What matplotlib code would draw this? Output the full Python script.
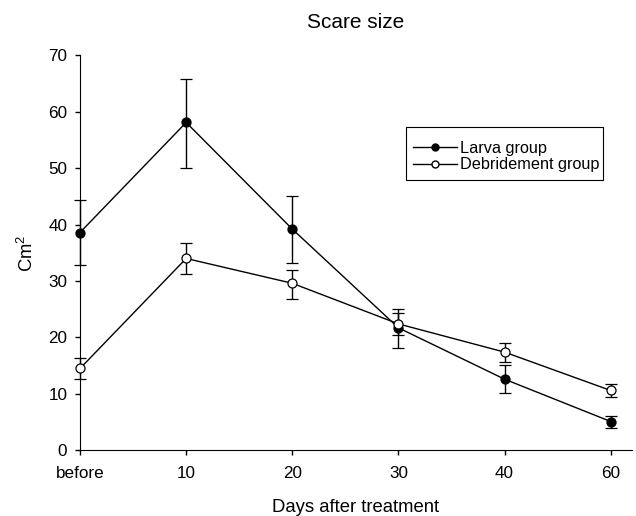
import numpy as np
import matplotlib
matplotlib.use('Agg')
import matplotlib.pyplot as plt
from matplotlib.lines import Line2D
from matplotlib.patches import Rectangle

plt.rcParams['font.family'] = ['Liberation Sans', 'DejaVu Sans']
plt.rcParams['mathtext.fontset'] = 'custom'
plt.rcParams['mathtext.rm'] = 'Liberation Sans'
plt.rcParams['mathtext.it'] = 'Liberation Sans'

days = ['before', '10', '20', '30', '40', '60']

# Larva group: mean with upper / lower error ends
larva_mean = [38.6, 58.1, 39.2, 21.7, 12.6, 5.1]
larva_hi = [44.4, 65.8, 45.1, 25.0, 15.2, 6.1]
larva_lo = [32.8, 50.1, 33.2, 18.2, 10.1, 4.0]

# Debridement group
debr_mean = [14.5, 34.0, 29.6, 22.4, 17.4, 10.6]
debr_hi = [16.3, 36.7, 32.0, 24.3, 19.1, 11.8]
debr_lo = [12.7, 31.2, 26.8, 20.4, 15.6, 9.4]

x = np.arange(len(days))

fig = plt.figure(figsize=(6.36, 5.16), dpi=100)
ax = fig.add_axes([0.1258, 0.1273, 0.8679, 0.7655])

def draw(mean, hi, lo, face):
    mean = np.array(mean)
    yerr = [mean - np.array(lo), np.array(hi) - mean]
    ax.errorbar(x, mean, yerr=yerr, color='black', lw=1.0, elinewidth=1.0,
                capsize=4.3, capthick=1.0, marker='o', markersize=6.5,
                markerfacecolor=face, markeredgecolor='black',
                markeredgewidth=0.9, clip_on=False, zorder=3)

draw(larva_mean, larva_hi, larva_lo, 'black')
draw(debr_mean, debr_hi, debr_lo, 'white')

ax.set_xlim(0, 5.2)
ax.set_ylim(0, 70)
ax.set_xticks(x)
ax.set_xticklabels(days)
ax.set_yticks(range(0, 71, 10))
ax.tick_params(direction='out', length=3.6, width=1, labelsize=12.3, color='black')
ax.tick_params(axis='x', pad=8)
ax.tick_params(axis='y', pad=5.5)
ax.spines['top'].set_visible(False)
ax.spines['right'].set_visible(False)

ax.set_title('Scare size', fontsize=15, pad=20)
ax.set_xlabel('Days after treatment', fontsize=13.3, labelpad=13)
ax.set_ylabel('Cm$^2$', fontsize=13.3, labelpad=8)

# legend box drawn separately, as in the original figure
ax.add_patch(Rectangle((0.5906, 0.6843), 0.3569, 0.1342, transform=ax.transAxes,
                       fill=False, edgecolor='black', lw=0.8, clip_on=False))
handles = [
    Line2D([], [], color='black', lw=1.0, marker='o', markersize=5,
           markerfacecolor='black', markeredgecolor='black'),
    Line2D([], [], color='black', lw=1.0, marker='o', markersize=5,
           markerfacecolor='white', markeredgecolor='black'),
]
leg = ax.legend(handles, ['Larva group', 'Debridement group'],
                loc='upper left', bbox_to_anchor=(0.6033, 0.783),
                borderaxespad=0, borderpad=0, fontsize=11.7, frameon=False,
                handlelength=2.7, labelspacing=0.08, handletextpad=0.2)

plt.savefig('out.png', dpi=100)
